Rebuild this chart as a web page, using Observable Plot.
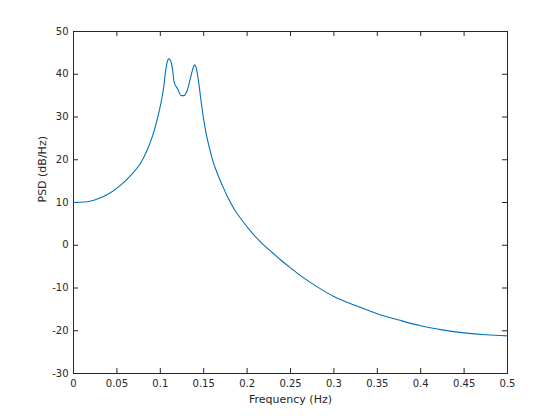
<!DOCTYPE html>
<html>
<head>
<meta charset="utf-8">
<script src="https://cdn.jsdelivr.net/npm/d3@7"></script>
<script src="https://cdn.jsdelivr.net/npm/@observablehq/plot@0.6"></script>
<style>
  html, body { margin: 0; padding: 0; background: #ffffff; }
  #chart svg { display: block; }
</style>
</head>
<body>
<div id="chart"></div>
<script>
// Values
const freq = [0, 0.012, 0.02, 0.031, 0.0426, 0.054, 0.0657, 0.0772, 0.0849, 0.0906, 0.0945, 0.0983, 0.1022, 0.104, 0.1055, 0.1075, 0.1098, 0.112, 0.114, 0.116, 0.120, 0.124, 0.127, 0.131, 0.134, 0.137, 0.1395, 0.1413, 0.1444, 0.1471, 0.150, 0.152, 0.154, 0.157, 0.160, 0.1655, 0.1713, 0.177, 0.1847, 0.1943, 0.2058, 0.2154, 0.2289, 0.2385, 0.25, 0.2615, 0.2846, 0.3, 0.325, 0.35, 0.375, 0.4, 0.425, 0.45, 0.475, 0.5];
const psd = [10, 10.1, 10.35, 11.1, 12.3, 14.0, 16.3, 19.2, 22.3, 25.3, 27.9, 31.0, 34.8, 37.1, 39.8, 42.5, 43.6, 43.1, 41.3, 38.1, 36.6, 35.0, 35.0, 36.2, 38.5, 40.9, 42.2, 41.6, 37.8, 33.5, 29.4, 27.0, 25.0, 22.5, 20.1, 16.9, 14.1, 11.5, 8.6, 5.8, 2.9, 0.8, -1.7, -3.4, -5.3, -7.1, -10.2, -12.0, -14.1, -16.0, -17.5, -18.85, -19.8, -20.5, -20.95, -21.2];
const xTicks = [0, 0.05, 0.1, 0.15, 0.2, 0.25, 0.3, 0.35, 0.4, 0.45, 0.5];
const yTicks = [-30, -20, -10, 0, 10, 20, 30, 40, 50];
const xLabel = "Frequency (Hz)";
const yLabel = "PSD (dB/Hz)";

const data = freq.map((f, i) => ({f, p: psd[i]}));
const axisColor = "#262626";
const plotH = 420 - 31 - 47;
const tickLen = 5;

const chart = Plot.plot({
  width: 560,
  height: 420,
  marginLeft: 73,
  marginRight: 53,
  marginTop: 31,
  marginBottom: 47,
  style: {fontFamily: "DejaVu Sans, sans-serif", fontSize: "10px", color: axisColor, background: "#ffffff"},
  x: {domain: [0, 0.5], ticks: xTicks, tickSize: 0, tickPadding: 6, tickFormat: d => String(+d.toFixed(2)), label: null},
  y: {domain: [-30, 50], ticks: yTicks, tickSize: 0, tickPadding: 5, tickFormat: d => String(d), label: null},
  marks: [
    Plot.frame({stroke: axisColor, strokeWidth: 1}),
    Plot.tickX(xTicks, {x: d => d, stroke: axisColor, insetTop: plotH - tickLen}),
    Plot.tickX(xTicks, {x: d => d, stroke: axisColor, insetBottom: plotH - tickLen}),
    Plot.tickY(yTicks, {y: d => d, stroke: axisColor, insetRight: 434 - tickLen}),
    Plot.tickY(yTicks, {y: d => d, stroke: axisColor, insetLeft: 434 - tickLen}),
    Plot.line(data, {x: "f", y: "p", stroke: "#0072BD", strokeWidth: 1.1, curve: "monotone-x"}),
    Plot.text([xLabel], {frameAnchor: "bottom", dy: 26, fontSize: 11, fill: axisColor, lineAnchor: "middle"}),
    Plot.text([yLabel], {frameAnchor: "left", dx: -31, rotate: -90, fontSize: 11, fill: axisColor, lineAnchor: "middle"})
  ]
});
document.getElementById("chart").appendChild(chart);
</script>
</body>
</html>
